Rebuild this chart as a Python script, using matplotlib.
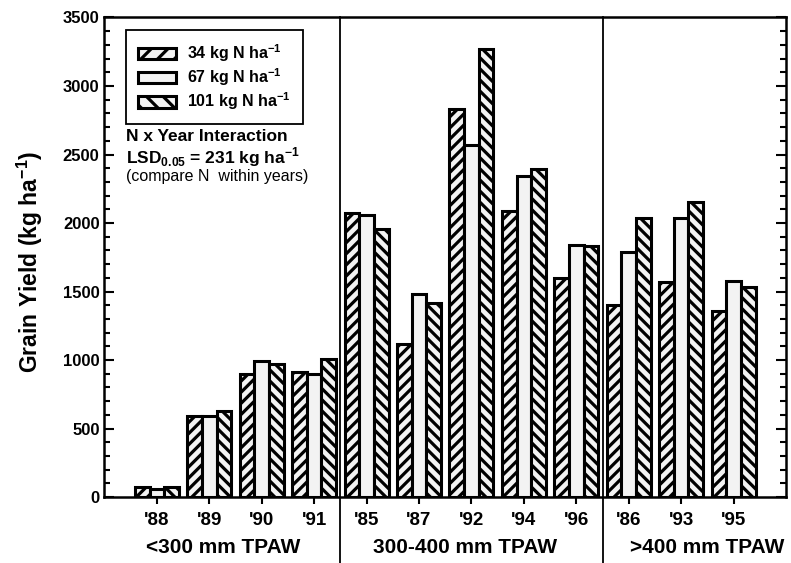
import matplotlib.pyplot as plt
from matplotlib.patches import Patch
from matplotlib.ticker import MultipleLocator

plt.rcParams["font.family"] = ["Liberation Sans", "DejaVu Sans"]
plt.rcParams["mathtext.fontset"] = "custom"
plt.rcParams["mathtext.rm"] = "Liberation Sans"
plt.rcParams["mathtext.bf"] = "Liberation Sans:bold"
plt.rcParams["hatch.linewidth"] = 2.3

# data
years = ["'88", "'89", "'90", "'91", "'85", "'87", "'92", "'94", "'96", "'86", "'93", "'95"]
n34 = [75, 590, 900, 915, 2070, 1120, 2830, 2090, 1600, 1400, 1570, 1360]
n67 = [60, 595, 990, 900, 2055, 1480, 2570, 2340, 1840, 1790, 2035, 1580]
n101 = [75, 630, 975, 1010, 1960, 1420, 3270, 2395, 1835, 2040, 2155, 1530]
groups = ["<300 mm TPAW", "300-400 mm TPAW", ">400 mm TPAW"]
group_centers = [2.26, 6.88, 11.5]
separators = [4.5, 9.5]

fig = plt.figure(figsize=(7.91, 5.63), dpi=100)
ax = fig.add_axes([0.132, 0.117, 0.8617, 0.852])

x = list(range(1, len(years) + 1))
w = 0.28
face = "#f3f3f3"
ax.bar([i - w for i in x], n34, w, facecolor=face, edgecolor="black", linewidth=2.2, hatch="///")
ax.bar(x, n67, w, facecolor=face, edgecolor="black", linewidth=2.2)
ax.bar([i + w for i in x], n101, w, facecolor=face, edgecolor="black", linewidth=2.2, hatch="\\\\\\")

ax.set_xlim(0, 13)
ax.set_ylim(0, 3500)
ax.set_xticks(x)
ax.set_xticklabels(years, fontsize=13.5, fontweight="bold")
ax.yaxis.set_major_locator(MultipleLocator(500))
ax.yaxis.set_minor_locator(MultipleLocator(100))
ax.tick_params(axis="y", which="both", direction="in", left=True, right=True, width=1.5)
ax.tick_params(axis="y", which="major", length=7, labelsize=12)
ax.tick_params(axis="y", which="minor", length=4)
ax.tick_params(axis="x", direction="out", length=5, width=1.5, pad=6)
for lab in ax.get_yticklabels():
    lab.set_fontweight("bold")
for s in ax.spines.values():
    s.set_linewidth(1.8)

ax.set_ylabel(r"Grain Yield (kg ha$^{\mathbf{-1}}$)", fontsize=16.5, fontweight="bold")
ax.yaxis.set_label_coords(-0.087, 0.49)

# separators run from the top of the plot down through the group labels
for sx in separators:
    ax.plot([sx, sx], [1, -0.14], color="black", linewidth=1.3,
            transform=ax.get_xaxis_transform(), clip_on=False)

for name, gx in zip(groups, group_centers):
    ax.text(gx, -0.106, name, transform=ax.get_xaxis_transform(), ha="center",
            va="center", fontsize=15, fontweight="bold")

handles = [
    Patch(facecolor=face, edgecolor="black", linewidth=2.2, hatch="//", label=r"34 kg N ha$^{\mathbf{-1}}$"),
    Patch(facecolor=face, edgecolor="black", linewidth=2.2, label=r"67 kg N ha$^{\mathbf{-1}}$"),
    Patch(facecolor=face, edgecolor="black", linewidth=2.2, hatch="\\\\", label=r"101 kg N ha$^{\mathbf{-1}}$"),
]
leg = ax.legend(handles=handles, loc="upper left", bbox_to_anchor=(0.031, 0.973),
                frameon=True, fancybox=False, edgecolor="black", framealpha=1,
                prop={"weight": "bold", "size": 11.5}, handlelength=2.4,
                handleheight=0.75, labelspacing=0.15, borderpad=0.75,
                handletextpad=0.7, borderaxespad=0)
leg.get_frame().set_linewidth(1.3)

ax.text(0.032, 0.751, "N x Year Interaction", transform=ax.transAxes,
        fontsize=12.5, fontweight="bold", va="center")
ax.text(0.032, 0.709, r"LSD$_{\mathbf{0.05}}$ = 231 kg ha$^{\mathbf{-1}}$", transform=ax.transAxes,
        fontsize=12.5, fontweight="bold", va="center")
ax.text(0.032, 0.668, "(compare N  within years)", transform=ax.transAxes,
        fontsize=11.5, va="center")

fig.savefig("out.png", dpi=100)
